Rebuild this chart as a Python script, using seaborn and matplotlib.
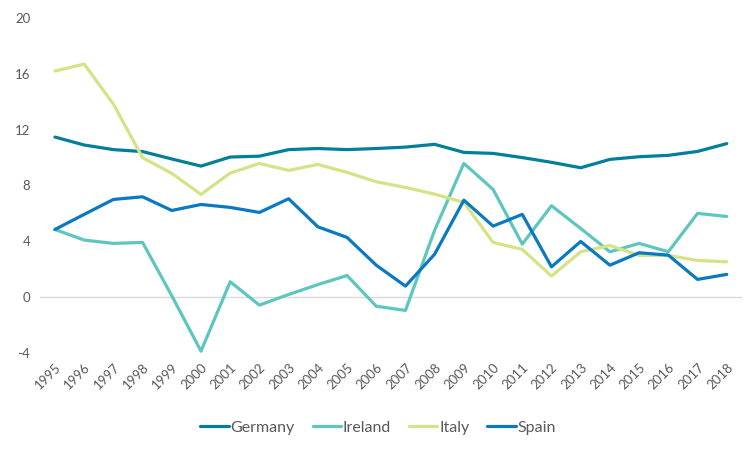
import pandas as pd
import numpy as np
import matplotlib.pyplot as plt
import seaborn as sns

# Data
years = list(range(1995, 2019))
germany = [11.47, 10.9, 10.57, 10.43, 9.9, 9.39, 10.04, 10.1, 10.57, 10.65, 10.57, 10.65,
           10.75, 10.95, 10.37, 10.3, 10.0, 9.66, 9.27, 9.87, 10.06, 10.16, 10.44, 11.0]
ireland = [4.85, 4.09, 3.85, 3.92, 0.1, -3.87, 1.1, -0.57, 0.19, 0.9, 1.55, -0.65,
           -0.95, 4.8, 9.58, 7.72, 3.8, 6.55, 4.92, 3.25, 3.85, 3.25, 6.0, 5.78]
italy = [16.2, 16.7, 13.83, 9.99, 8.87, 7.36, 8.89, 9.58, 9.08, 9.51, 8.94, 8.27,
         7.86, 7.38, 6.79, 3.92, 3.42, 1.51, 3.25, 3.7, 2.99, 2.99, 2.63, 2.53]
spain = [4.85, 5.93, 7.0, 7.19, 6.21, 6.64, 6.43, 6.07, 7.05, 5.04, 4.28, 2.29,
         0.79, 3.08, 6.95, 5.09, 5.93, 2.17, 3.99, 2.29, 3.18, 3.01, 1.27, 1.63]
countries = ["Germany", "Ireland", "Italy", "Spain"]
colors = ["#007f9a", "#5cc6bf", "#d5e286", "#0a78c2"]

df = pd.DataFrame({"Year": years, "Germany": germany, "Ireland": ireland,
                   "Italy": italy, "Spain": spain})
long_df = df.melt(id_vars="Year", var_name="Country", value_name="Value")

sns.set_style("white")
plt.rcParams['font.family'] = ['Lato', 'DejaVu Sans']
plt.rcParams['axes.unicode_minus'] = False

fig = plt.figure(figsize=(7.56, 4.5), dpi=100)
ax = fig.add_axes([0.053, 0.2156, 0.928, 0.7444])

ax.axhline(0, color="#d9d9d9", lw=1, zorder=0)
sns.lineplot(data=long_df, x="Year", y="Value", hue="Country", hue_order=countries,
             palette=colors, linewidth=2.3, ax=ax, legend=False)

ax.set_xlim(1994.49, 2018.51)
ax.set_ylim(-4, 20)
ax.set_yticks([-4, 0, 4, 8, 12, 16, 20])
ax.set_xticks(years)
ax.set_xticklabels([str(y) for y in years], rotation=45, ha="right",
                   rotation_mode="anchor")
ax.tick_params(axis="both", length=0, labelsize=9.5, labelcolor="#595959")
ax.tick_params(axis="y", pad=7)
ax.tick_params(axis="x", pad=6)
ax.set_xlabel("")
ax.set_ylabel("")
sns.despine(ax=ax, left=True, bottom=True)

handles = [plt.Line2D([], [], color=c, lw=2.3) for c in colors]
fig.legend(handles, countries, loc="center", bbox_to_anchor=(0.5, 0.049), ncol=4,
           frameon=False, fontsize=11.5, handlelength=1.8, handletextpad=0.1,
           columnspacing=1.1, labelcolor="#595959")

fig.savefig("out.png", dpi=100)
